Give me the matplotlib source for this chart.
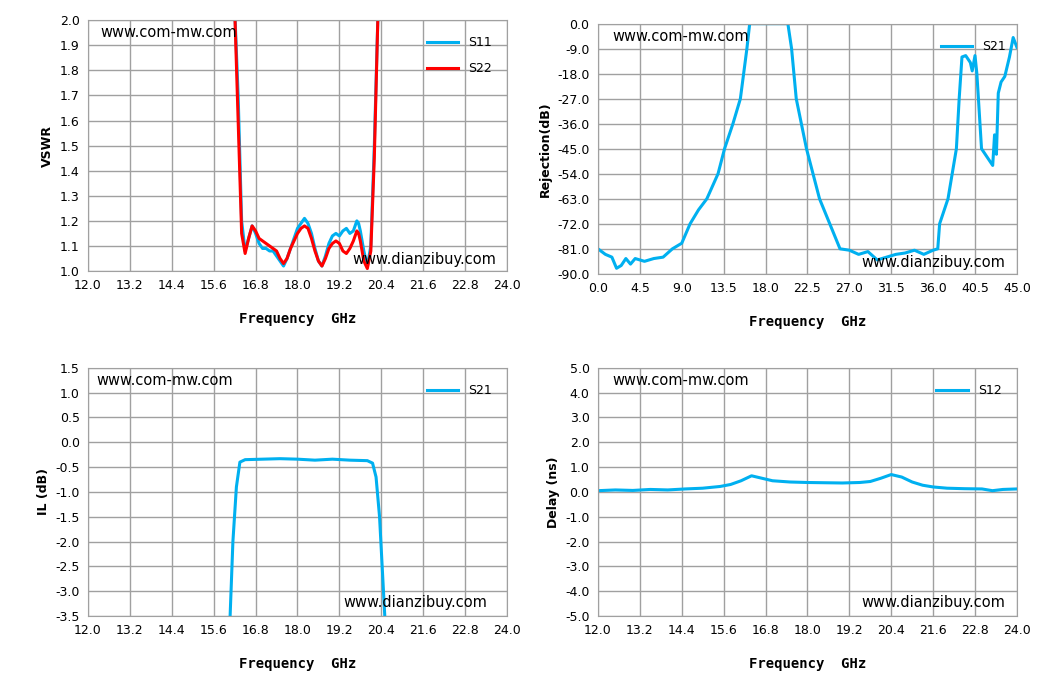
import matplotlib
matplotlib.use("Agg")
import matplotlib.pyplot as plt
import numpy as np

# VSWR
vs_f = [16.2, 16.3, 16.4, 16.5, 16.6, 16.7, 16.8, 16.9, 17.0, 17.1, 17.2, 17.3, 17.4, 17.5, 17.6, 17.7, 17.8, 17.9, 18.0, 18.1, 18.2, 18.3, 18.4, 18.5, 18.6, 18.7, 18.8, 18.9, 19.0, 19.1, 19.2, 19.3, 19.4, 19.5, 19.6, 19.7, 19.75, 19.8, 19.9, 20.0, 20.1, 20.2, 20.3, 20.4]
s11 = [2.05, 1.7, 1.2, 1.08, 1.13, 1.18, 1.15, 1.11, 1.09, 1.09, 1.08, 1.08, 1.06, 1.04, 1.02, 1.05, 1.09, 1.13, 1.17, 1.19, 1.21, 1.19, 1.15, 1.09, 1.04, 1.02, 1.06, 1.11, 1.14, 1.15, 1.14, 1.16, 1.17, 1.15, 1.16, 1.2, 1.19, 1.16, 1.08, 1.02, 1.1, 1.5, 2.0, 2.1]
s22 = [2.05, 1.6, 1.15, 1.07, 1.13, 1.18, 1.16, 1.13, 1.12, 1.11, 1.10, 1.09, 1.08, 1.05, 1.03, 1.05, 1.09, 1.12, 1.15, 1.17, 1.18, 1.17, 1.13, 1.08, 1.04, 1.02, 1.05, 1.09, 1.11, 1.12, 1.11, 1.08, 1.07, 1.09, 1.12, 1.16, 1.15, 1.12, 1.04, 1.01, 1.08, 1.45, 2.0, 2.1]

# Rejection
rj_f = [0.0, 0.8, 1.5, 2.0, 2.5, 3.0, 3.5, 4.0, 5.0, 6.0, 7.0, 8.0, 9.0, 9.9, 10.8, 11.7, 12.9, 13.6, 14.5, 15.3, 16.0, 16.3, 20.4, 20.8, 21.3, 22.4, 23.8, 24.9, 26.0, 27.0, 28.0, 29.0, 30.0, 31.0, 32.0, 33.0, 34.0, 35.0, 36.0, 36.5, 36.7, 37.6, 38.5, 38.8, 39.1, 39.5, 40.0, 40.2, 40.5, 40.7, 41.2, 42.0, 42.4, 42.6, 42.8, 43.0, 43.3, 43.7, 44.2, 44.6, 45.0]
s21r = [-81.0, -83.0, -84.0, -88.0, -87.0, -84.5, -86.5, -84.5, -85.5, -84.5, -84.0, -81.0, -79.0, -72.0, -67.0, -63.0, -54.0, -45.0, -36.0, -27.0, -9.0, 0.0, 0.0, -9.0, -27.0, -45.0, -63.0, -72.0, -81.0, -81.5, -83.0, -82.0, -85.0, -84.0, -83.0, -82.5, -81.5, -83.0, -81.5, -81.0, -72.0, -63.0, -45.0, -27.0, -12.0, -11.5, -14.0, -17.0, -11.5, -18.0, -45.0, -49.0, -51.0, -40.0, -47.0, -25.0, -21.0, -19.0, -12.0, -5.0, -8.5]

# Insertion loss
il_f = [16.07, 16.15, 16.25, 16.35, 16.5, 17.0, 17.5, 18.0, 18.5, 19.0, 19.5, 20.0, 20.15, 20.25, 20.35, 20.5]
il = [-3.5, -2.0, -0.9, -0.4, -0.35, -0.34, -0.33, -0.34, -0.36, -0.34, -0.36, -0.37, -0.42, -0.7, -1.5, -3.5]

# Delay
dl_f = [12.0, 12.5, 13.0, 13.5, 14.0, 14.5, 15.0, 15.5, 15.8, 16.1, 16.4, 16.7, 17.0, 17.5, 18.0, 18.5, 19.0, 19.5, 19.8, 20.1, 20.4, 20.7, 21.0, 21.3, 21.6, 22.0, 22.5, 23.0, 23.3, 23.6, 24.0]
dly = [0.05, 0.08, 0.06, 0.1, 0.08, 0.12, 0.15, 0.22, 0.3, 0.45, 0.65, 0.55, 0.45, 0.4, 0.38, 0.37, 0.36, 0.38, 0.42, 0.55, 0.7, 0.6, 0.4, 0.27, 0.2, 0.15, 0.13, 0.12, 0.05, 0.1, 0.12]

blue = "#00B0F0"
red = "#FF0000"
fig = plt.figure(figsize=(10.49, 6.95), dpi=100)

def setup(ax, xlim, xstep, ylim, ystep, ylabel, xlab="Frequency  GHz", fmt="%.1f"):
    ax.set_xlim(*xlim); ax.set_ylim(*ylim)
    ax.set_xticks(np.arange(xlim[0], xlim[1] + 1e-6, xstep))
    ax.set_yticks(np.arange(ylim[0], ylim[1] + 1e-6, ystep))
    ax.set_xticklabels([fmt % v for v in ax.get_xticks()])
    ax.set_yticklabels([fmt % v for v in ax.get_yticks()])
    ax.grid(True, color="#A0A0A0", lw=1)
    ax.tick_params(length=0, labelsize=9, pad=6)
    for s in ax.spines.values():
        s.set_color("#A0A0A0")
    ax.set_ylabel(ylabel, fontsize=9, fontweight="bold")
    ax.set_xlabel(xlab, fontsize=10, fontweight="bold", family="DejaVu Sans Mono", labelpad=14)

ax1 = fig.add_axes([0.0839, 0.610, 0.3994, 0.361])
ax1.plot(vs_f, s11, color=blue, lw=2.2, label="S11")
ax1.plot(vs_f, s22, color=red, lw=2.2, label="S22")
setup(ax1, (12, 24), 1.2, (1.0, 2.0), 0.1, "VSWR")
ax1.legend(loc="upper right", frameon=False, fontsize=9, handlelength=2.5, bbox_to_anchor=(0.99, 0.98), labelspacing=1.0)
ax1.text(0.03, 0.95, "www.com-mw.com", transform=ax1.transAxes, fontsize=10.5, va="center")
ax1.text(0.63, 0.045, "www.dianzibuy.com", transform=ax1.transAxes, fontsize=10.5, va="center", zorder=5)

ax2 = fig.add_axes([0.570, 0.606, 0.3994, 0.360])
ax2.plot(rj_f, s21r, color=blue, lw=2.2, label="S21")
setup(ax2, (0, 45), 4.5, (-90, 0), 9, "Rejection(dB)")
ax2.legend(loc="upper right", frameon=False, fontsize=9, handlelength=2.5, bbox_to_anchor=(1.0, 0.98))
ax2.text(0.035, 0.95, "www.com-mw.com", transform=ax2.transAxes, fontsize=10.5, va="center")
ax2.text(0.63, 0.045, "www.dianzibuy.com", transform=ax2.transAxes, fontsize=10.5, va="center", zorder=5)

ax3 = fig.add_axes([0.0839, 0.1137, 0.3994, 0.357])
ax3.plot(il_f, il, color=blue, lw=2.2, label="S21")
setup(ax3, (12, 24), 1.2, (-3.5, 1.5), 0.5, "IL (dB)")
ax3.legend(loc="upper right", frameon=False, fontsize=9, handlelength=2.5, bbox_to_anchor=(0.99, 0.98))
ax3.text(0.02, 0.95, "www.com-mw.com", transform=ax3.transAxes, fontsize=10.5, va="center")
ax3.text(0.61, 0.055, "www.dianzibuy.com", transform=ax3.transAxes, fontsize=10.5, va="center", zorder=5)

ax4 = fig.add_axes([0.570, 0.1137, 0.3994, 0.357])
ax4.plot(dl_f, dly, color=blue, lw=2.2, label="S12")
setup(ax4, (12, 24), 1.2, (-5, 5), 1, "Delay (ns)")
ax4.legend(loc="upper right", frameon=False, fontsize=9, handlelength=2.5, bbox_to_anchor=(0.99, 0.98))
ax4.text(0.035, 0.95, "www.com-mw.com", transform=ax4.transAxes, fontsize=10.5, va="center")
ax4.text(0.63, 0.055, "www.dianzibuy.com", transform=ax4.transAxes, fontsize=10.5, va="center", zorder=5)

fig.savefig("out.png", dpi=100)
